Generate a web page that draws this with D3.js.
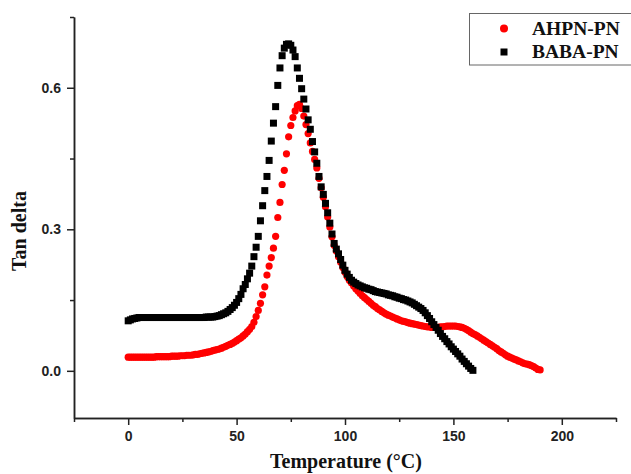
<!DOCTYPE html>
<html>
<head>
<meta charset="utf-8">
<title>Tan delta vs Temperature</title>
<script src="https://d3js.org/d3.v7.min.js"></script>
<style>
    body { margin: 0; background: #fff; }
    .tick text { font: bold 14px Arial, "Liberation Sans", sans-serif; fill: #222; }
    .axis path, .axis line { stroke: #222; stroke-width: 1.5px; }
    .title { font: bold 20px "Times New Roman", "Liberation Serif", serif; fill: #111; }
    .legend text { font: bold 19.5px "Times New Roman", "Liberation Serif", serif; fill: #111; }
</style>
</head>
<body>
<div id="chart"></div>
<script>
    // temperature grid starts at 0 °C, one reading per degree
    const babaStart = 0;
    const ahpnStart = 0;

    // BABA-PN tan delta, 0..159 °C
    const babaTan = [
        .106,.108,.110,.111,.112,.113,.113,.113,.113,.113,
        .113,.113,.113,.113,.113,.113,.113,.113,.113,.113,
        .113,.113,.113,.113,.113,.113,.113,.113,.113,.113,
        .113,.113,.113,.113,.113,.113,.114,.114,.114,.114,
        .115,.116,.117,.119,.121,.123,.126,.130,.134,.139,
        .145,.153,.162,.174,.183,.195,.207,.222,.242,.262,
        .285,.318,.350,.382,.412,.446,.487,.525,.560,.605,
        .642,.668,.684,.692,.693,.690,.680,.666,.642,.620,
        .598,.576,.555,.532,.512,.486,.464,.440,.412,.390,
        .374,.355,.335,.313,.290,.270,.258,.248,.236,.224,
        .213,.205,.198,.192,.188,.185,.182,.180,.178,.176,
        .175,.173,.172,.170,.168,.167,.166,.165,.164,.163,
        .161,.160,.159,.157,.156,.154,.153,.151,.150,.148,
        .146,.144,.141,.138,.135,.132,.128,.123,.117,.111,
        .104,.098,.092,.086,.079,.073,.068,.062,.057,.051,
        .046,.041,.036,.031,.025,.020,.015,.010,.005,.001
    ];

    // AHPN-PN tan delta, 0..190 °C
    const ahpnTan = [
        .029,.029,.029,.029,.029,.029,.029,.029,.029,.029,
        .029,.029,.029,.030,.030,.030,.030,.030,.030,.030,
        .031,.031,.031,.031,.032,.032,.032,.033,.033,.033,
        .034,.035,.035,.036,.037,.038,.039,.040,.041,.043,
        .044,.045,.046,.048,.050,.052,.054,.056,.058,.061,
        .064,.067,.070,.074,.078,.083,.088,.094,.103,.115,
        .128,.143,.161,.178,.203,.222,.240,.260,.285,.325,
        .357,.395,.425,.460,.496,.520,.537,.551,.562,.565,
        .556,.540,.522,.503,.483,.465,.448,.430,.408,.388,
        .368,.348,.326,.305,.284,.266,.254,.242,.230,.219,
        .209,.200,.192,.186,.180,.174,.169,.164,.159,.155,
        .151,.147,.143,.139,.136,.132,.129,.126,.123,.120,
        .118,.116,.114,.112,.110,.108,.106,.105,.104,.102,
        .101,.100,.099,.098,.097,.096,.095,.094,.093,.093,
        .092,.092,.092,.092,.093,.093,.094,.095,.095,.095,
        .095,.095,.094,.093,.092,.090,.088,.085,.082,.079,
        .077,.074,.071,.068,.065,.062,.059,.056,.053,.050,
        .047,.043,.040,.037,.034,.031,.029,.027,.025,.023,
        .021,.019,.017,.015,.014,.013,.011,.009,.006,.003,
        .002
    ];

    const xMajor = [0, 50, 100, 150, 200];
    const xMinor = [-25, 25, 75, 125, 175, 225];
    const yMajor = [0.0, 0.3, 0.6];
    const yMinor = [0.15, 0.45, 0.75];
    const seriesNames = ["AHPN-PN", "BABA-PN"];

    const width = 631, height = 474;

    const svg = d3.select("#chart").append("svg")
        .attr("width", width)
        .attr("height", height);

    const x = d3.scaleLinear().domain([-25, 225]).range([74, 616]);
    const y = d3.scaleLinear().domain([-0.1, 0.75]).range([418, 17]);

    // axes - minor first, then major with labels
    svg.append("g").attr("class", "axis")
        .attr("transform", "translate(0,418)")
        .call(d3.axisBottom(x).tickValues(xMinor).tickSize(4).tickSizeOuter(0).tickFormat(""));
    svg.append("g").attr("class", "axis")
        .attr("transform", "translate(0,418)")
        .call(d3.axisBottom(x).tickValues(xMajor).tickSize(7).tickSizeOuter(0).tickPadding(6).tickFormat(d3.format("d")));

    svg.append("g").attr("class", "axis")
        .attr("transform", "translate(74,0)")
        .call(d3.axisLeft(y).tickValues(yMinor).tickSize(4).tickSizeOuter(0).tickFormat(""));
    svg.append("g").attr("class", "axis")
        .attr("transform", "translate(74,0)")
        .call(d3.axisLeft(y).tickValues(yMajor).tickSize(7).tickSizeOuter(0).tickPadding(6).tickFormat(d3.format(".1f")));

    // axis titles
    svg.append("text").attr("class", "title")
        .attr("x", 346).attr("y", 468)
        .attr("text-anchor", "middle")
        .text("Temperature (°C)");
    svg.append("text").attr("class", "title")
        .attr("transform", "translate(26,231) rotate(-90)")
        .attr("text-anchor", "middle")
        .text("Tan delta");

    // AHPN-PN red circles
    svg.append("g")
        .selectAll("circle")
        .data(ahpnTan)
        .enter().append("circle")
        .attr("cx", (d, i) => x(ahpnStart + i))
        .attr("cy", d => y(d))
        .attr("r", 3.6)
        .attr("fill", "#ff0000");

    // BABA-PN black squares on top
    const sq = 7;
    svg.append("g")
        .selectAll("rect")
        .data(babaTan)
        .enter().append("rect")
        .attr("x", (d, i) => x(babaStart + i) - sq / 2)
        .attr("y", d => y(d) - sq / 2)
        .attr("width", sq)
        .attr("height", sq)
        .attr("fill", "#000");

    // legend
    const legend = svg.append("g").attr("class", "legend");
    legend.append("rect")
        .attr("x", 469.5).attr("y", 13.5)
        .attr("width", 170).attr("height", 51.5)
        .attr("fill", "#fff")
        .attr("stroke", "#666")
        .attr("stroke-width", 1);
    legend.append("circle")
        .attr("cx", 504).attr("cy", 28.5).attr("r", 4)
        .attr("fill", "#ff0000");
    legend.append("rect")
        .attr("x", 500.5).attr("y", 48.5).attr("width", 7).attr("height", 7)
        .attr("fill", "#000");
    legend.selectAll("text")
        .data(seriesNames)
        .enter().append("text")
        .attr("x", 532)
        .attr("y", (d, i) => 34.5 + i * 23)
        .text(d => d);
</script>
</body>
</html>
